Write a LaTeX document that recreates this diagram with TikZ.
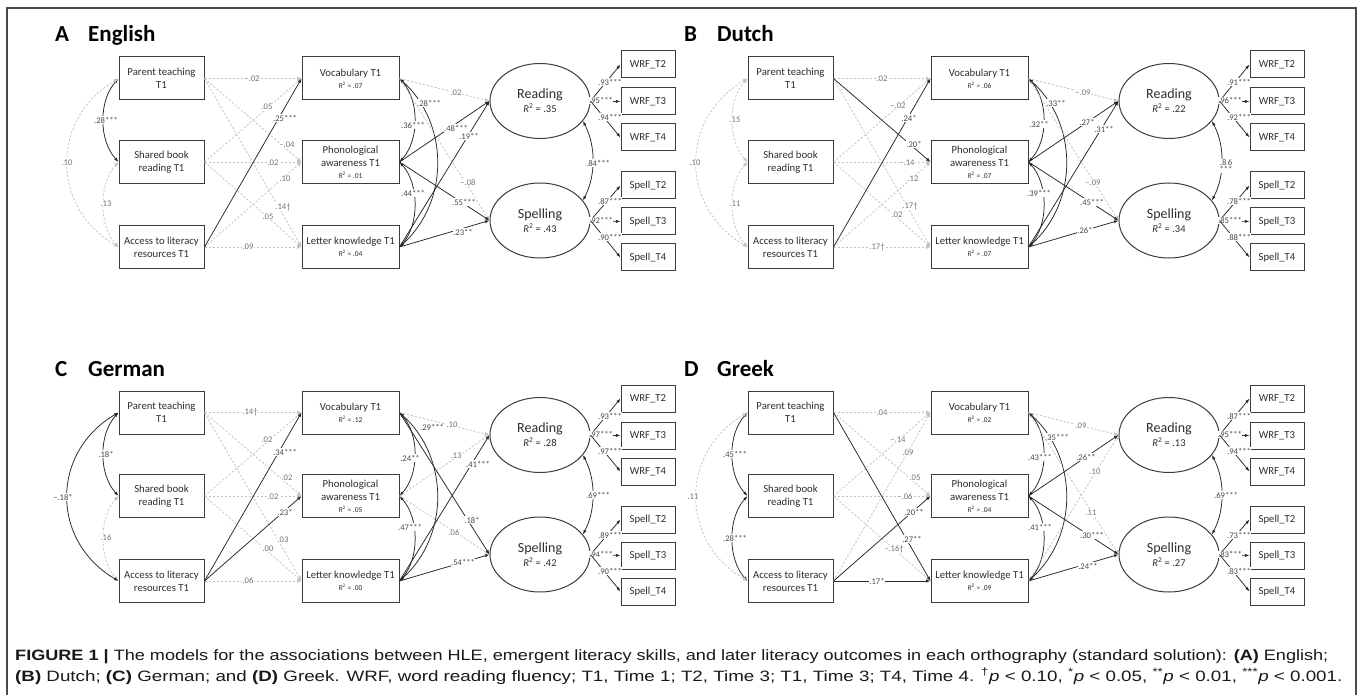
\documentclass[tikz,border=0pt]{standalone}
\usepackage{fontspec}
\usepackage{graphicx}
\setmainfont{Carlito}
\newfontfamily\capfont{Liberation Sans}
\usetikzlibrary{arrows.meta,shapes.geometric}
\definecolor{bd}{HTML}{3C3C3C}
\definecolor{tx}{HTML}{2E2E2E}
\definecolor{lg}{HTML}{C2C2C2}
\definecolor{fr}{HTML}{4A4A4A}
\newcommand\rsq[1]{{\fontsize{7.5}{8}\selectfont\textit{R}\textsuperscript{2} = #1}}
\newcommand\rsqb[1]{{\fontsize{10.5}{12}\selectfont\textit{R}\textsuperscript{2} = #1}}
\tikzset{
  base/.style={draw=bd, line width=1pt, inner sep=0pt, align=center, text=tx, font=\fontsize{10.7}{13}\selectfont},
  lbox/.style={base, minimum width=85pt, minimum height=43pt},
  mbox/.style={base, minimum width=97pt, minimum height=43pt},
  obox/.style={base, minimum width=54pt, minimum height=27pt},
  lat/.style={base, ellipse, minimum width=100pt, minimum height=75pt, font=\fontsize{14}{14}\selectfont},
  ttl/.style={inner sep=0pt, font=\fontsize{23}{26}\selectfont\bfseries, text=black},
  grl/.style={draw=lg, line width=0.75pt, dash pattern=on 2.2pt off 1.8pt},
  bkl/.style={draw=black!85, line width=0.75pt},
  gr/.style={grl, -{Latex[length=4.5pt,width=4pt]}},
  grd/.style={grl, {Latex[length=4.5pt,width=4pt]}-{Latex[length=4.5pt,width=4pt]}},
  bk/.style={bkl, -{Latex[length=4.5pt,width=3.2pt]}},
  bkd/.style={bkl, {Latex[length=4.5pt,width=3.2pt]}-{Latex[length=4.5pt,width=3.2pt]}},
  lbl/.style={fill=white, inner sep=0.5pt, align=center, font=\fontsize{8.6}{8.6}\selectfont},
  lbl-gr/.style={lbl, text=black!55},
  lbl-grd/.style={lbl-gr},
  lbl-bk/.style={lbl, text=black!72},
  lbl-bkd/.style={lbl-bk},
}
\newcommand\panelnodes[8]{%
  \node[ttl, anchor=base west] (#1t) at (55,42) {#2};
  \node[ttl, anchor=base west] (#1n) at (88,42) {#3};
  \node[lbox] (#1pt) at (161.5,78.5) {Parent teaching\\T1};
  \node[lbox] (#1sb) at (161.5,162) {Shared book\\reading T1};
  \node[lbox] (#1ac) at (161.5,247) {Access to literacy\\resources T1};
  \node[mbox] (#1voc) at (350.5,78.5) {Vocabulary T1\\[-1pt]\rsq{#4}};
  \node[mbox] (#1pho) at (350.5,162) {Phonological\\awareness T1\\[-1pt]\rsq{#5}};
  \node[mbox] (#1let) at (350.5,247) {Letter knowledge T1\\[-1pt]\rsq{#6}};
  \node[lat] (#1rd) at (540,101) {Reading\\\rsqb{#7}};
  \node[lat] (#1sp) at (540,220.5) {Spelling\\\rsqb{#8}};
  \node[obox] (#1w2) at (648,64.5) {WRF\_T2};
  \node[obox] (#1w3) at (648,101.5) {WRF\_T3};
  \node[obox] (#1w4) at (648,137.5) {WRF\_T4};
  \node[obox] (#1s2) at (648,185.5) {Spell\_T2};
  \node[obox] (#1s3) at (648,221.5) {Spell\_T3};
  \node[obox] (#1s4) at (648,257.5) {Spell\_T4};
}
\newcommand\E[5]{\draw[#1] (#2) -- (#3); \node[lbl-#1] at (#4) {#5};}
\newcommand\leftarcs[8]{%
  \draw[#2] (#1pt.west) .. controls +(-20,22) and +(-20,-22) .. (#1sb.west);
  \draw[#4] (#1sb.west) .. controls +(-20,22) and +(-20,-22) .. (#1ac.west);
  \draw[#6] (#1pt.west) .. controls +(-68,40) and +(-68,-40) .. (#1ac.west);
  \node[lbl-#2] at (106,120) {#3};
  \node[lbl-#4] at (106,204) {#5};
  \node[lbl-#6] at (#8,163) {#7};
}
\newcommand\midarcs[7]{%
  \draw[bkd] (#1voc.east) .. controls +(20,22) and +(20,-22) .. (#1pho.east);
  \draw[bkd] (#1pho.east) .. controls +(20,22) and +(20,-22) .. (#1let.east);
  \draw[bkd] (#1voc.east) .. controls +(50,45) and +(50,-45) .. (#1let.east);
  \node[lbl-bk] at (#3) {#2};
  \node[lbl-bk] at (#5) {#4};
  \node[lbl-bk] at (#7) {#6};
}
\newcommand\outcome[9]{%
  \draw[bkd] (#1rd.-25) .. controls +(13,25) and +(13,-25) .. (#1sp.25);
  \node[lbl-bk] at (#3) {#2};
  \draw[bk] (#1rd.east) -- (#1w2.west); \node[lbl-bk] at (610,82) {#4};
  \draw[bk] (#1rd.east) -- (#1w3.west); \node[lbl-bk] at (601,100.5) {#5};
  \draw[bk] (#1rd.east) -- (#1w4.west); \node[lbl-bk] at (610,117) {#6};
  \draw[bk] (#1sp.east) -- (#1s2.west); \node[lbl-bk] at (610,201) {#7};
  \draw[bk] (#1sp.east) -- (#1s3.west); \node[lbl-bk] at (601,220.5) {#8};
  \draw[bk] (#1sp.east) -- (#1s4.west); \node[lbl-bk] at (610,237) {#9};
}
\begin{document}
\begin{tikzpicture}[x=1pt,y=-1pt]
\useasboundingbox (0,0) rectangle (1358,695);
\fill[white] (0,0) rectangle (1358,695);
\draw[fr, line width=1.3pt] (7,695) -- (7,8) -- (1356,8) -- (1356,695);

% ---------------- A English
\begin{scope}
\panelnodes{A}{A}{English}{.07}{.01}{.04}{.35}{.43}
\leftarcs{A}{bkd}{.28***}{grd}{.13}{grd}{.10}{67}
\E{gr}{Apt.east}{Avoc.west}{252,79}{–.02}
\E{gr}{Asb.east}{Avoc.west}{267,107}{.05}
\E{gr}{Apt.east}{Apho.west}{287,145}{–.04}
\E{gr}{Asb.east}{Apho.west}{273,163}{.02}
\E{gr}{Aac.east}{Apho.west}{285,179}{.10}
\E{gr}{Apt.east}{Alet.west}{283,207}{.14†}
\E{gr}{Asb.east}{Alet.west}{268,217}{.05}
\E{gr}{Aac.east}{Alet.west}{248,247}{.09}
\E{bk}{Aac.east}{Avoc.west}{285,118}{.25***}
\midarcs{A}{.36***}{413,125}{.44***}{413,193}{.28***}{429,103}
\E{gr}{Avoc.east}{Ard.west}{456,93}{.02}
\E{gr}{Avoc.east}{Asp.west}{468,183}{–.08}
\E{bk}{Apho.east}{Ard.west}{456,128}{.48***}
\E{bk}{Apho.east}{Asp.west}{464,202}{.55***}
\E{bk}{Alet.east}{Ard.west}{469,136}{.19**}
\E{bk}{Alet.east}{Asp.west}{463,232}{.23**}
\outcome{A}{.84***}{598,163}{.93***}{.95***}{.94***}{.87***}{.92***}{.90***}
\end{scope}

% ---------------- B Dutch
\begin{scope}[shift={(629,0)}]
\panelnodes{B}{B}{Dutch}{.06}{.07}{.07}{.22}{.34}
\leftarcs{B}{grd}{.15}{grd}{.11}{grd}{.10}{66}
\E{gr}{Bpt.east}{Bvoc.west}{253,79}{.02}
\E{gr}{Bsb.east}{Bvoc.west}{269,106}{–.02}
\E{gr}{Bsb.east}{Bpho.west}{278,163}{–.14}
\E{gr}{Bac.east}{Bpho.west}{284,179}{.12}
\E{gr}{Bpt.east}{Blet.west}{281,206}{.17†}
\E{gr}{Bsb.east}{Blet.west}{268,215}{.02}
\E{gr}{Bac.east}{Blet.west}{248,247}{.17†}
\E{bk}{Bac.east}{Bvoc.west}{280,118}{.24*}
\E{bk}{Bpt.east}{Bpho.west}{285,144}{.20*}
\midarcs{B}{.32**}{410,124}{.39***}{410,193}{.33**}{427,103}
\E{gr}{Bvoc.east}{Brd.west}{454,93}{–.09}
\E{gr}{Bvoc.east}{Bsp.west}{464,183}{–.09}
\E{bk}{Bpho.east}{Brd.west}{458,122}{.27*}
\E{bk}{Blet.east}{Brd.west}{475,129}{.31**}
\E{bk}{Bpho.east}{Bsp.west}{463,202}{.45***}
\E{bk}{Blet.east}{Bsp.west}{456,230}{.26*}
\outcome{B}{.8\,6\\[-2pt]***}{597,166}{.91***}{.96***}{.92***}{.78***}{.85***}{.88***}
\end{scope}

% ---------------- C German
\begin{scope}[shift={(0,334)}]
\panelnodes{C}{C}{German}{.12}{.05}{.00}{.28}{.42}
\leftarcs{C}{bkd}{.18*}{grd}{.16}{bkd}{–.18*}{63}
\E{gr}{Cpt.east}{Cvoc.west}{250,78}{.14†}
\E{gr}{Csb.east}{Cvoc.west}{267,106}{.02}
\E{gr}{Cpt.east}{Cpho.west}{287,144}{.02}
\E{gr}{Csb.east}{Cpho.west}{273,163}{.02}
\E{gr}{Cpt.east}{Clet.west}{283,206}{.03}
\E{gr}{Csb.east}{Clet.west}{268,215}{.00}
\E{gr}{Cac.east}{Clet.west}{248,247}{.06}
\E{bk}{Cac.east}{Cvoc.west}{285,118}{.34***}
\E{bk}{Cac.east}{Cpho.west}{285,178}{.23*}
\midarcs{C}{.24**}{410,124}{.47***}{410,193}{.29***}{432,93}
\E{gr}{Cvoc.east}{Crd.west}{452,91}{.10}
\E{gr}{Cpho.east}{Crd.west}{456,122}{.13}
\E{gr}{Cpho.east}{Csp.west}{454,199}{.06}
\E{bk}{Cvoc.east}{Csp.west}{472,186}{.18*}
\E{bk}{Clet.east}{Crd.west}{478,130}{.41***}
\E{bk}{Clet.east}{Csp.west}{463,228}{.54***}
\outcome{C}{.69***}{598,161}{.93***}{.97***}{.97***}{.89***}{.94***}{.90***}
\end{scope}

% ---------------- D Greek
\begin{scope}[shift={(629,334)}]
\panelnodes{D}{D}{Greek}{.02}{.04}{.09}{.13}{.27}
\leftarcs{D}{bkd}{.45***}{bkd}{.28***}{grd}{.11}{64}
\E{gr}{Dpt.east}{Dvoc.west}{253,79}{.04}
\E{gr}{Dsb.east}{Dvoc.west}{269,106}{–.14}
\E{gr}{Dac.east}{Dvoc.west}{279,119}{.09}
\E{gr}{Dpt.east}{Dpho.west}{286,144}{.05}
\E{gr}{Dsb.east}{Dpho.west}{276,163}{–.06}
\E{gr}{Dsb.east}{Dlet.west}{265,215}{–.16†}
\E{bk}{Dac.east}{Dpho.west}{285,178}{.20**}
\E{bk}{Dpt.east}{Dlet.west}{283,205}{.27**}
\E{bk}{Dac.east}{Dlet.west}{248,247}{.17*}
\midarcs{D}{.43***}{411,123}{.41***}{411,193}{.35***}{428,103}
\E{gr}{Dvoc.east}{Drd.west}{452,92}{.09}
\E{gr}{Dvoc.east}{Dsp.west}{462,179}{.11}
\E{gr}{Dlet.east}{Drd.west}{466,138}{.10}
\E{bk}{Dpho.east}{Drd.west}{457,123}{.26**}
\E{bk}{Dpho.east}{Dsp.west}{463,201}{.30***}
\E{bk}{Dlet.east}{Dsp.west}{459,232}{.24**}
\outcome{D}{.69***}{597,161}{.87***}{.95***}{.94***}{.73***}{.83***}{.83***}
\end{scope}

% ---------------- caption
\node[anchor=base west, inner sep=0pt, font=\capfont\fontsize{15}{17}\selectfont, text=black!90] (cap1) at (15,660)
 {\resizebox{1313pt}{\height}{\textbf{FIGURE 1 |} The models for the associations between HLE, emergent literacy skills, and later literacy outcomes in each orthography (standard solution): \textbf{(A)} English;}};
\node[anchor=base west, inner sep=0pt, font=\capfont\fontsize{15}{17}\selectfont, text=black!90] (cap2) at (15,681)
 {\resizebox{1327pt}{\height}{\textbf{(B)} Dutch; \textbf{(C)} German; and \textbf{(D)} Greek. WRF, word reading fluency; T1, Time 1; T2, Time 3; T1, Time 3; T4, Time 4. \textsuperscript{†}\textit{p} < 0.10, \textsuperscript{*}\textit{p} < 0.05, \textsuperscript{**}\textit{p} < 0.01, \textsuperscript{***}\textit{p} < 0.001.}};
\end{tikzpicture}
\end{document}
